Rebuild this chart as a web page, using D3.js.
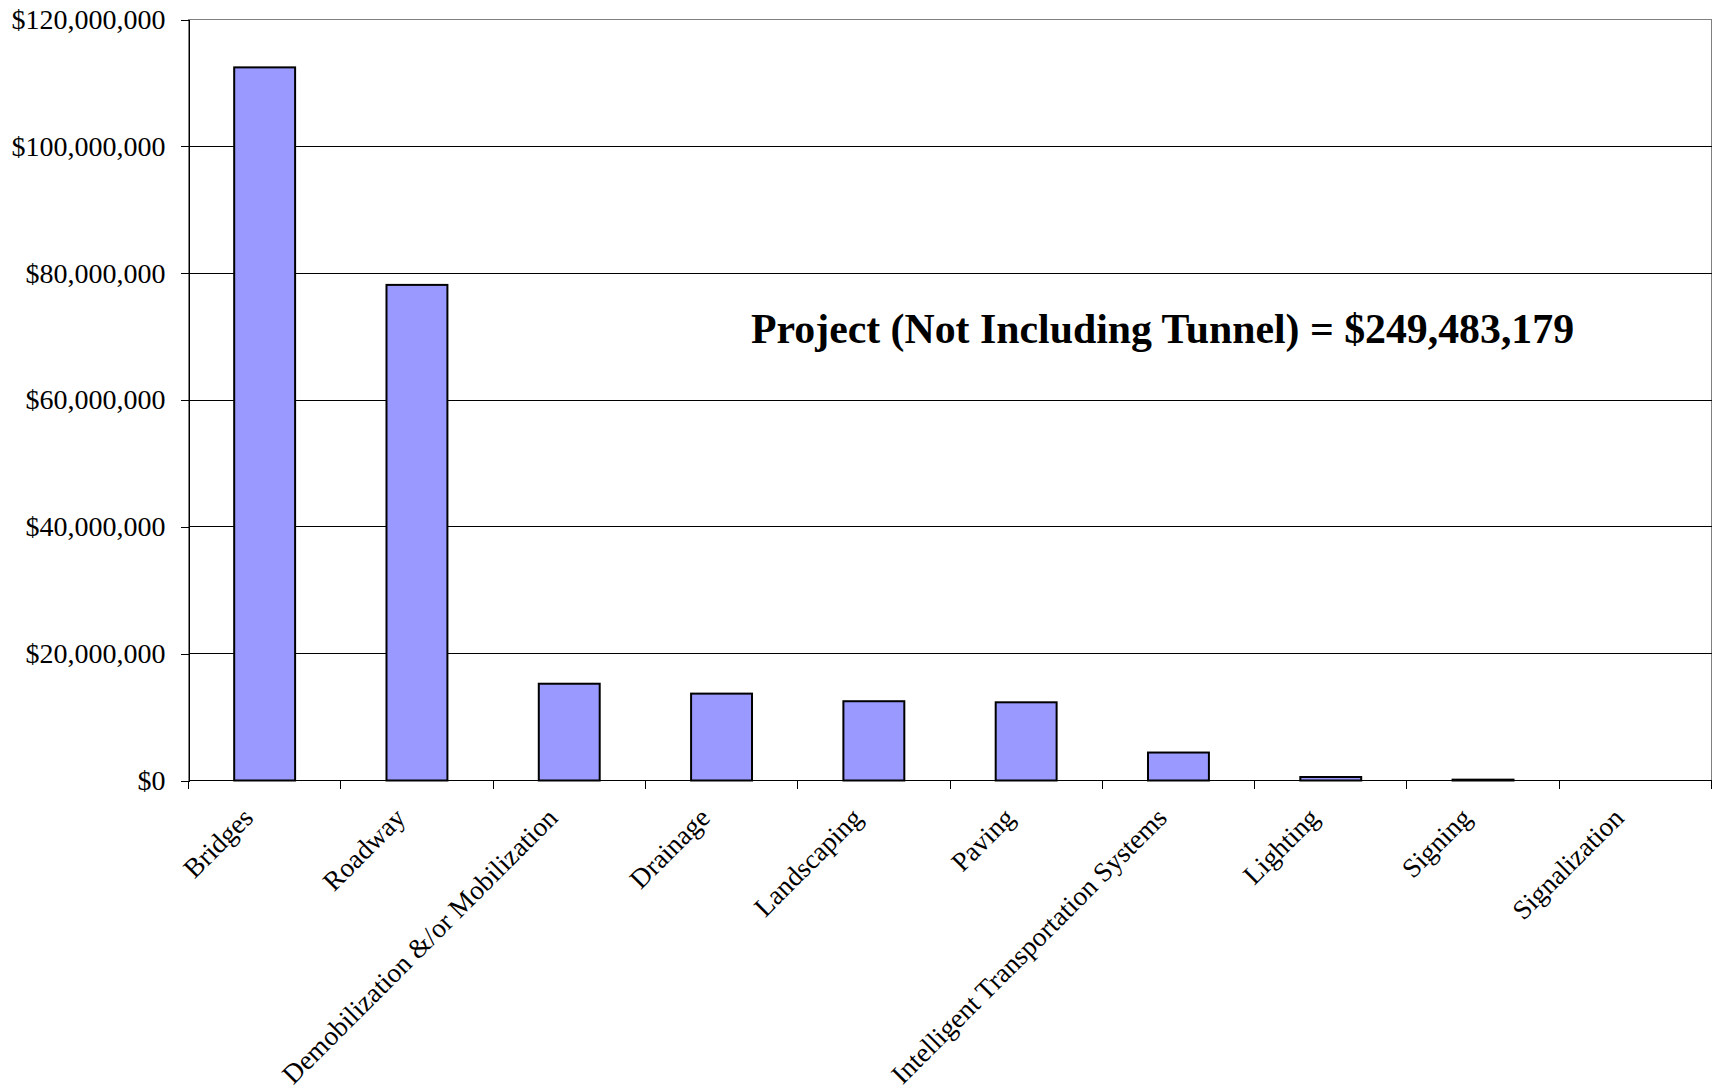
<!DOCTYPE html>
<html>
<head>
<meta charset="utf-8">
<script src="https://cdn.jsdelivr.net/npm/d3@7"></script>
<style>
  html, body { margin: 0; padding: 0; background: #fff; }
  svg { display: block; }
  text { font-family: "Liberation Serif", "Times New Roman", serif; fill: #000; }
</style>
</head>
<body>
<svg id="chart" width="1713" height="1091"></svg>
<script>
// Construction cost by work category (USD)
const categories = [
  "Bridges", "Roadway", "Demobilization &/or Mobilization", "Drainage",
  "Landscaping", "Paving", "Intelligent Transportation Systems",
  "Lighting", "Signing", "Signalization"
];
const costs = [
  112450000, 78150000, 15260000, 13700000,
  12500000, 12330000, 4410000,
  550000, 133179, 0
];
const yTicks = [0, 20000000, 40000000, 60000000, 80000000, 100000000, 120000000];
const totalLabel = "Project (Not Including Tunnel) = ";

const W = 1713, H = 1091;
const margin = { top: 19.5, right: 1.5, bottom: 310.5, left: 188.5 };

const svg = d3.select("#chart");
svg.append("rect").attr("width", W).attr("height", H).attr("fill", "#fff");

const x = d3.scaleBand()
  .domain(categories)
  .range([margin.left, W - margin.right])
  .padding(0);

const y = d3.scaleLinear()
  .domain([0, 120000000])
  .range([H - margin.bottom, margin.top]);

const money = v => "$" + d3.format(",")(v);

// plot area frame
svg.append("rect")
  .attr("x", margin.left).attr("y", margin.top)
  .attr("width", W - margin.right - margin.left)
  .attr("height", H - margin.bottom - margin.top)
  .attr("fill", "none").attr("stroke", "#808080").attr("stroke-width", 1)
  .attr("shape-rendering", "crispEdges");

// horizontal gridlines
svg.append("g")
  .selectAll("line")
  .data(yTicks.filter(t => t > 0 && t < 120000000))
  .join("line")
  .attr("x1", margin.left).attr("x2", W - margin.right)
  .attr("y1", d => y(d)).attr("y2", d => y(d))
  .attr("stroke", "#000").attr("stroke-width", 1)
  .attr("shape-rendering", "crispEdges");

// bars
const barW = x.bandwidth() * 0.4;
svg.append("g")
  .selectAll("rect")
  .data(categories.map((c, i) => ({ c, v: costs[i] })).filter(d => d.v > 0))
  .join("rect")
  .attr("x", d => x(d.c) + (x.bandwidth() - barW) / 2)
  .attr("y", d => y(d.v))
  .attr("width", barW)
  .attr("height", d => y(0) - y(d.v))
  .attr("fill", "#9999FF")
  .attr("stroke", "#000")
  .attr("stroke-width", 2);

// y axis
const yAxis = d3.axisLeft(y)
  .tickValues(yTicks)
  .tickFormat(money)
  .tickSize(8)
  .tickPadding(15);
const gy = svg.append("g")
  .attr("transform", `translate(${margin.left},0)`)
  .call(yAxis);
gy.select(".domain").attr("stroke", "#000").attr("shape-rendering", "crispEdges");
gy.selectAll(".tick line").attr("stroke", "#000").attr("shape-rendering", "crispEdges");
gy.selectAll(".tick text")
  .attr("font-family", "Liberation Serif, Times New Roman, serif")
  .attr("font-size", 28)
  .attr("fill", "#000");

// x axis: ticks at category boundaries
const gx = svg.append("g");
gx.append("line")
  .attr("x1", margin.left).attr("x2", W - margin.right)
  .attr("y1", y(0)).attr("y2", y(0))
  .attr("stroke", "#000").attr("shape-rendering", "crispEdges");
const bounds = categories.map(c => x(c)).concat([x.range()[1]]);
gx.selectAll("line.tk")
  .data(bounds)
  .join("line")
  .attr("class", "tk")
  .attr("x1", d => d).attr("x2", d => d)
  .attr("y1", y(0)).attr("y2", y(0) + 8)
  .attr("stroke", "#000").attr("shape-rendering", "crispEdges");

// rotated category labels
gx.selectAll("text")
  .data(categories)
  .join("text")
  .attr("transform", d => `translate(${x(d) + x.bandwidth() / 2 - 10},${y(0) + 39}) rotate(-45)`)
  .attr("text-anchor", "end")
  .attr("font-size", 27.3)
  .text(d => d);

// project total annotation
svg.append("text")
  .attr("x", 751)
  .attr("y", 343)
  .attr("font-size", 41.8)
  .attr("font-weight", "bold")
  .text(totalLabel + money(d3.sum(costs)));
</script>
</body>
</html>
